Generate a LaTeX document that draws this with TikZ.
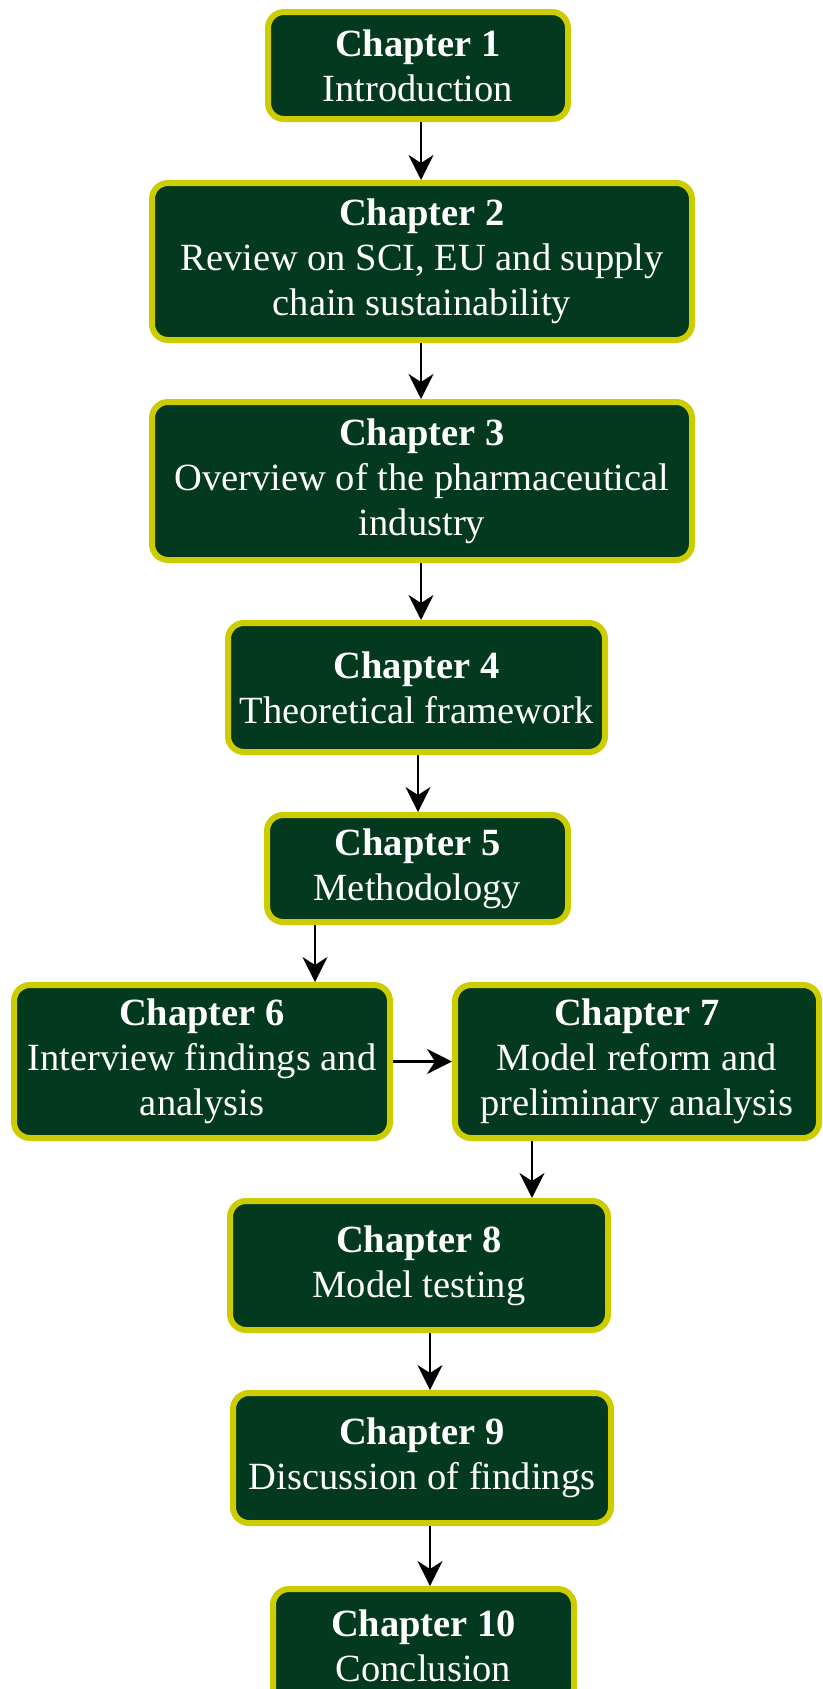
\documentclass[tikz,border=0pt]{standalone}
\usepackage{fontspec}
\setmainfont{Liberation Serif}
\usetikzlibrary{arrows.meta}
\definecolor{boxfill}{RGB}{3,57,30}
\definecolor{boxedge}{RGB}{204,204,0}
\begin{document}
\begin{tikzpicture}[x=1pt,y=-1pt,
  chapbox/.style={draw=boxedge,fill=boxfill,line width=6pt,rounded corners=16pt,
    text=white,align=center,inner sep=0pt,
    font=\fontsize{38.5}{45}\selectfont},
  arr/.style={-{Stealth[length=25pt,width=25pt,inset=8pt]},line width=2.2pt,black}]
\useasboundingbox (0,0) rectangle (822,1689);
% chapter boxes: minimum sizes are the outer sizes less the border width
\node[chapbox,minimum width=300pt,minimum height=107pt] (c1) at (418,65.5)
  {\textbf{Chapter 1}\\Introduction};
\node[chapbox,minimum width=540pt,minimum height=157pt] (c2) at (422,261.5)
  {\textbf{Chapter 2}\\Review on SCI, EU and supply\\chain sustainability};
\node[chapbox,minimum width=540pt,minimum height=158pt] (c3) at (422,481)
  {\textbf{Chapter 3}\\Overview of the pharmaceutical\\industry};
\node[chapbox,minimum width=377pt,minimum height=129pt] (c4) at (416.5,687.5)
  {\textbf{Chapter 4}\\Theoretical framework};
\node[chapbox,minimum width=301pt,minimum height=107pt] (c5) at (417.5,868.5)
  {\textbf{Chapter 5}\\Methodology};
\node[chapbox,minimum width=376pt,minimum height=153pt] (c6) at (202,1061.5)
  {\textbf{Chapter 6}\\Interview findings and\\analysis};
\node[chapbox,minimum width=364pt,minimum height=153pt] (c7) at (637,1061.5)
  {\textbf{Chapter 7}\\Model reform and\\preliminary analysis};
\node[chapbox,minimum width=378pt,minimum height=129pt] (c8) at (419,1265.5)
  {\textbf{Chapter 8}\\Model testing};
\node[chapbox,minimum width=378pt,minimum height=130pt] (c9) at (422,1458)
  {\textbf{Chapter 9}\\Discussion of findings};
\node[chapbox,minimum width=301pt,minimum height=114pt,anchor=north] (c10) at (423.5,1586)
  {\textbf{Chapter 10}\\Conclusion};
% vertical positions of the connectors
\coordinate (xa) at (421,0);
\coordinate (xb) at (418,0);
\coordinate (xc) at (315,0);
\coordinate (xd) at (532,0);
\coordinate (xe) at (430,0);
\draw[arr] (c1.south -| xa) -- (c2.north -| xa);
\draw[arr] (c2.south -| xa) -- (c3.north -| xa);
\draw[arr] (c3.south -| xa) -- (c4.north -| xa);
\draw[arr] (c4.south -| xb) -- (c5.north -| xb);
\draw[arr] (c5.south -| xc) -- (c6.north -| xc);
\draw[arr] (c6.east) -- (c7.west);
\draw[arr] (c7.south -| xd) -- (c8.north -| xd);
\draw[arr] (c8.south -| xe) -- (c9.north -| xe);
\draw[arr] (c9.south -| xe) -- (c10.north -| xe);
\end{tikzpicture}
\end{document}
